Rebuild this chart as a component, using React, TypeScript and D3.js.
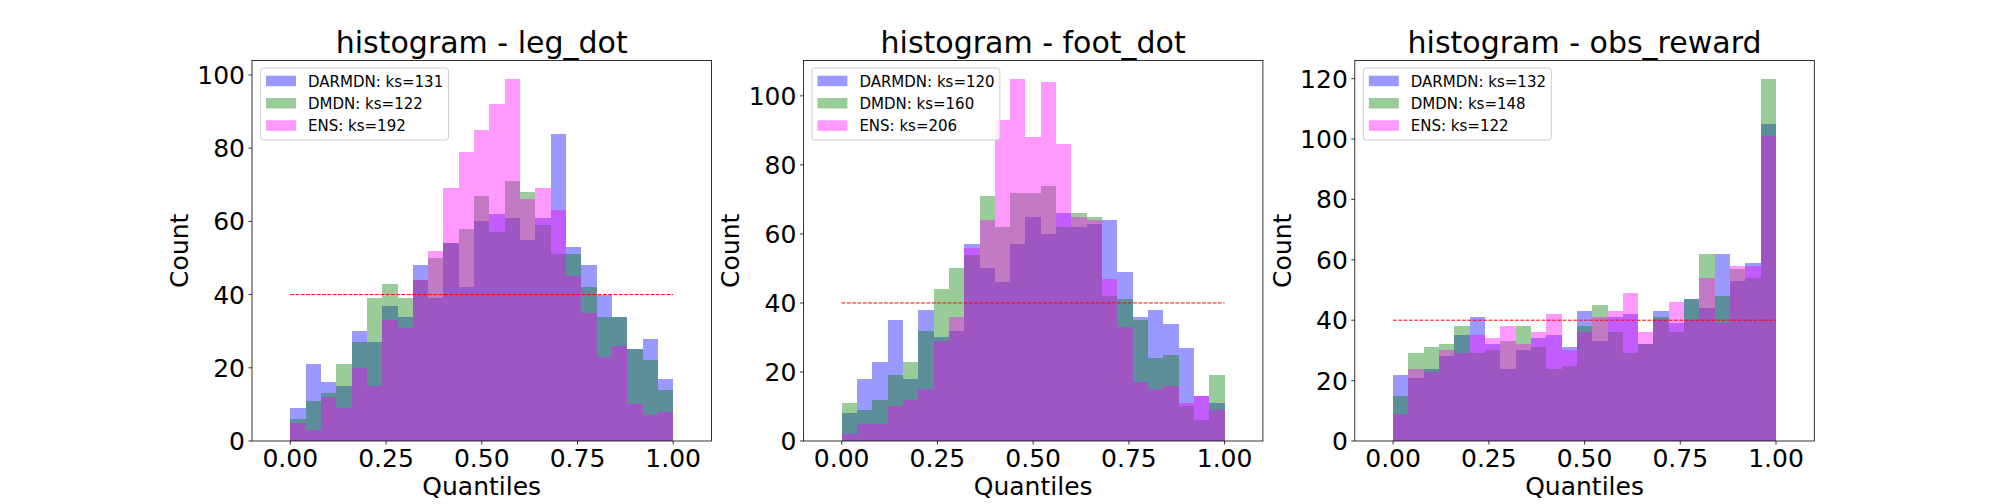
import { scaleLinear } from 'd3'

// bin edges of the quantile histograms (25 bins over [0, 1])
const binEdges = [
	0, 0.04, 0.08, 0.12, 0.16, 0.2, 0.24, 0.28, 0.32, 0.36, 0.4, 0.44, 0.48, 0.52, 0.56, 0.6, 0.64, 0.68, 0.72, 0.76,
	0.8, 0.84, 0.88, 0.92, 0.96, 1,
]

const seriesNames = ['DARMDN', 'DMDN', 'ENS']
const seriesColors = ['#0000ff', '#008000', '#ff00ff']

const legDotDarmdn = [9, 21, 16, 15, 30, 27, 37, 34, 48, 39, 54, 42, 60, 62, 61, 55, 61, 84, 53, 48, 40, 34, 25, 28, 17]
const legDotDmdn = [6, 11, 13, 21, 27, 39, 43, 39, 44, 50, 54, 58, 67, 57, 71, 68, 59, 51, 51, 42, 34, 34, 25, 22, 14]
const legDotEns = [5, 3, 12, 9, 20, 15, 33, 31, 44, 52, 69, 79, 85, 92, 99, 66, 69, 63, 45, 35, 23, 26, 10, 7, 8]
const legDotKs = [131, 122, 192]

const footDotDarmdn = [8, 18, 23, 35, 18, 38, 30, 32, 57, 50, 46, 57, 65, 60, 66, 62, 63, 64, 49, 36, 38, 34, 27, 13, 11]
const footDotDmdn = [11, 9, 12, 19, 23, 32, 44, 50, 54, 71, 62, 72, 72, 74, 62, 66, 65, 42, 41, 35, 24, 25, 10, 6, 19]
const footDotEns = [2, 5, 5, 10, 12, 15, 29, 36, 56, 64, 93, 105, 88, 104, 86, 65, 64, 47, 33, 17, 15, 16, 11, 13, 9]
const footDotKs = [120, 160, 206]

const obsRewardDarmdn = [22, 21, 24, 28, 35, 41, 32, 24, 30, 34, 35, 31, 43, 33, 41, 42, 32, 43, 39, 47, 44, 62, 53, 59, 105]
const obsRewardDmdn = [15, 29, 31, 32, 38, 29, 30, 33, 38, 31, 24, 25, 38, 45, 36, 29, 32, 41, 36, 47, 62, 48, 57, 54, 120]
const obsRewardEns = [9, 24, 23, 30, 29, 35, 34, 38, 32, 36, 42, 30, 36, 41, 43, 49, 36, 40, 46, 40, 54, 39, 58, 58, 101]
const obsRewardKs = [132, 148, 122]

const xTicks = [0, 0.25, 0.5, 0.75, 1]
const uniformLevel = 40

const panels = [
	{ name: 'leg_dot', counts: [legDotDarmdn, legDotDmdn, legDotEns], ks: legDotKs, yTicks: [0, 20, 40, 60, 80, 100] },
	{ name: 'foot_dot', counts: [footDotDarmdn, footDotDmdn, footDotEns], ks: footDotKs, yTicks: [0, 20, 40, 60, 80, 100] },
	{
		name: 'obs_reward',
		counts: [obsRewardDarmdn, obsRewardDmdn, obsRewardEns],
		ks: obsRewardKs,
		yTicks: [0, 20, 40, 60, 80, 100, 120],
	},
]

const width = 2016
const height = 504
const axTop = 60.5
const axBottom = 441
const axWidth = 459.5
const axLefts = [252, 803.4, 1354.8]
const font = 'DejaVu Sans, sans-serif'

function Panel({ panel, left }: { panel: (typeof panels)[number]; left: number }) {
	const right = left + axWidth
	const x = scaleLinear().domain([-0.1, 1.1]).range([left, right])
	const yMax = Math.max(...panel.counts.flat()) * 1.05
	const y = scaleLinear().domain([0, yMax]).range([axBottom, axTop])

	const legX = left + 8.5
	const legY = axTop + 7.5

	return (
		<g>
			{panel.counts.map((counts, s) => (
				<g key={seriesNames[s]} fill={seriesColors[s]} fillOpacity={0.4}>
					{counts.map((c, i) => (
						<rect
							key={i}
							x={x(binEdges[i])}
							width={x(binEdges[i + 1]) - x(binEdges[i])}
							y={y(c)}
							height={axBottom - y(c)}
							shapeRendering="crispEdges"
						/>
					))}
				</g>
			))}

			<line
				x1={x(0)}
				x2={x(1)}
				y1={y(uniformLevel)}
				y2={y(uniformLevel)}
				stroke="#ff0000"
				strokeWidth={1}
				strokeDasharray="3.7 1.6"
			/>

			<rect x={left} y={axTop} width={axWidth} height={axBottom - axTop} fill="none" stroke="#000" strokeWidth={0.8} />

			{xTicks.map((t) => (
				<g key={t}>
					<line x1={x(t)} x2={x(t)} y1={axBottom} y2={axBottom + 3.5} stroke="#000" strokeWidth={0.8} />
					<text x={x(t)} y={467} textAnchor="middle" fontSize={25} fill="#000">
						{t.toFixed(2)}
					</text>
				</g>
			))}
			{panel.yTicks.map((t) => (
				<g key={t}>
					<line x1={left - 3.5} x2={left} y1={y(t)} y2={y(t)} stroke="#000" strokeWidth={0.8} />
					<text x={left - 7} y={y(t)} dy="0.36em" textAnchor="end" fontSize={25} fill="#000">
						{t}
					</text>
				</g>
			))}

			<text x={(left + right) / 2} y={53} textAnchor="middle" fontSize={30} fill="#000">
				histogram - {panel.name}
			</text>
			<text x={(left + right) / 2} y={495} textAnchor="middle" fontSize={25} fill="#000">
				Quantiles
			</text>
			<text
				transform={`translate(${left - 64}, ${(axTop + axBottom) / 2}) rotate(-90)`}
				textAnchor="middle"
				fontSize={25}
				fill="#000"
			>
				Count
			</text>

			<rect
				x={legX}
				y={legY}
				width={188}
				height={72}
				rx={3}
				fill="#fff"
				fillOpacity={0.8}
				stroke="#cccccc"
				strokeWidth={1}
			/>
			{seriesNames.map((name, s) => (
				<g key={name}>
					<rect
						x={legX + 5.5}
						y={legY + 7.7 + s * 22.3}
						width={30}
						height={10.5}
						fill={seriesColors[s]}
						fillOpacity={0.4}
					/>
					<text x={legX + 47.5} y={legY + 18.5 + s * 22.3} fontSize={15} fill="#000">
						{`${name}: ks=${panel.ks[s]}`}
					</text>
				</g>
			))}
		</g>
	)
}

export default function App() {
	return (
		<div style={{ position: 'fixed', left: 0, top: 0, width, height, background: '#fff' }}>
			<svg width={width} height={height} viewBox={`0 0 ${width} ${height}`} fontFamily={font}>
				<rect width={width} height={height} fill="#fff" />
				{panels.map((p, i) => (
					<Panel key={p.name} panel={p} left={axLefts[i]} />
				))}
			</svg>
		</div>
	)
}
